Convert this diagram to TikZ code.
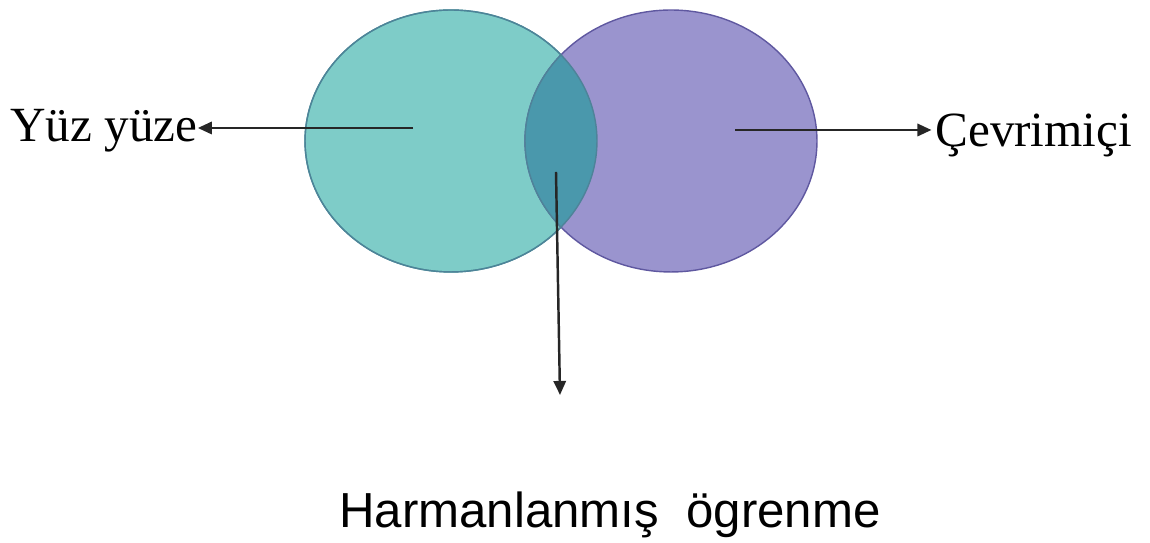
\documentclass[tikz,border=0pt]{standalone}
\usepackage{fontspec}
\setmainfont{Liberation Serif}
\newfontfamily\arialfont{Liberation Sans}
\usepackage{xcolor}
\usetikzlibrary{positioning,arrows.meta,shapes.geometric}
\definecolor{yuzfill}{RGB}{126,204,200}
\definecolor{yuzline}{RGB}{70,150,150}
\definecolor{cevfill}{RGB}{154,148,206}
\definecolor{cevline}{RGB}{95,88,160}
\definecolor{harfill}{RGB}{74,152,172}

\begin{document}
\begin{tikzpicture}[x=0.02cm, y=0.02cm, >={Triangle[length=8pt,width=7pt]}]
\tikzset{
  circ/.style={ellipse, minimum width=5.84cm, minimum height=5.24cm, line width=0.8pt},
  lbl/.style={inner sep=0pt, font=\fontsize{28}{34}\selectfont},
  conn/.style={->, line width=1.4pt, black!85}
}
\useasboundingbox (0,0) rectangle (1150,543);
% the two sets
\node[circ, draw=yuzline, fill=yuzfill] (yuz) at (451,402) {};
\node[circ, draw=cevline, fill=cevfill] (cev) at (671,402) {};
% overlap
\begin{scope}
  \clip (451,402) ellipse [x radius=2.92cm, y radius=2.62cm];
  \fill[harfill] (671,402) ellipse [x radius=2.92cm, y radius=2.62cm];
  \draw[yuzline!70!cevline, line width=0.8pt] (671,402) ellipse [x radius=2.92cm, y radius=2.62cm];
\end{scope}
\draw[yuzline!70!cevline, line width=0.8pt] (451,402) ellipse [x radius=2.92cm, y radius=2.62cm];
% labels
\node[lbl, anchor=base west] (yy) at (10,401) {Yüz yüze};
\node[lbl, anchor=base west] (cv) at (935,396) {Çevrimiçi};
\node[lbl, font=\arialfont\fontsize{28}{34}\selectfont, anchor=base] (hl) at (610,15) {Harmanlanmış\ \ ögrenme};
\coordinate (ya) at (413,415);
\coordinate (ca) at (735,413);
\coordinate (ha) at (556,371);
\coordinate (hb) at (560,148);
\draw[conn] (ya) -- (ya -| yy.east);
\draw[conn] (ca) -- ([xshift=-2pt]ca -| cv.west);
\draw[conn] (ha) -- (hb);
\end{tikzpicture}
\end{document}
